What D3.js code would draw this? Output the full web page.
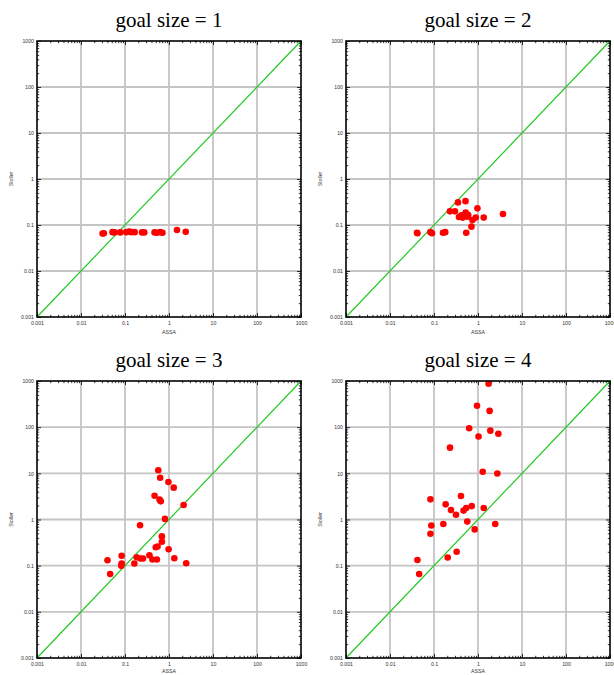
<!DOCTYPE html>
<html><head><meta charset="utf-8">
<script src="https://cdn.jsdelivr.net/npm/d3@7"></script>
<style>body{margin:0;background:#fff}svg{display:block}</style>
</head><body>
<svg id="c" width="614" height="675"></svg>
<script>
const titles = ["goal size = 1","goal size = 2","goal size = 3","goal size = 4"];
const tickValues = [0.001,0.01,0.1,1,10,100,1000];
const tickLabels = ["0.001","0.01","0.1","1","10","100","1000"];
const xTitle = "ASSA", yTitle = "Stoller";

const assa1 = [0.031,0.033,0.052,0.058,0.078,0.107,0.125,0.139,0.166,0.244,0.274,0.47,0.53,0.63,0.71,1.52,2.4];
const stoller1 = [0.065,0.066,0.070,0.069,0.069,0.070,0.072,0.070,0.070,0.069,0.069,0.069,0.068,0.070,0.068,0.078,0.071];

const assa2 = [0.041,0.042,0.083,0.090,0.16,0.18,0.23,0.30,0.35,0.52,0.37,0.42,0.46,0.525,0.575,0.45,0.60,0.97,0.75,0.89,0.71,0.54,1.35,3.7];
const stoller2 = [0.068,0.066,0.070,0.066,0.068,0.070,0.198,0.198,0.31,0.33,0.149,0.162,0.162,0.186,0.152,0.145,0.165,0.23,0.128,0.145,0.092,0.068,0.145,0.173];

const assa3 = [0.040,0.046,0.084,0.084,0.082,0.163,0.184,0.223,0.257,0.22,0.36,0.42,0.53,0.50,0.55,0.69,0.69,0.98,1.32,2.46,0.81,2.15,0.47,0.61,0.65,0.57,0.63,0.97,1.28];
const stoller3 = [0.131,0.066,0.163,0.111,0.099,0.111,0.152,0.143,0.143,0.75,0.168,0.136,0.136,0.25,0.26,0.33,0.43,0.227,0.145,0.113,1.03,2.06,3.28,2.69,2.47,11.7,8.0,6.5,4.9];

const assa4 = [0.042,0.046,0.083,0.087,0.083,0.163,0.184,0.205,0.243,0.231,0.316,0.327,0.41,0.47,0.54,0.57,0.63,0.72,0.84,0.95,1.03,1.28,1.35,1.74,1.84,1.91,2.46,2.75,2.9];
const stoller4 = [0.133,0.066,0.49,0.74,2.73,0.80,2.13,0.15,1.61,36,1.27,0.20,3.22,1.56,1.77,0.90,95,1.95,0.61,290,63,10.8,1.77,875,225,84,0.80,9.9,72];

const panels = [
  {title: titles[0], x: assa1, y: stoller1, left: 37, top: 41, bottom: 317, xt: 17},
  {title: titles[1], x: assa2, y: stoller2, left: 346, top: 41, bottom: 317, xt: 17},
  {title: titles[2], x: assa3, y: stoller3, left: 37, top: 381, bottom: 658, xt: 15},
  {title: titles[3], x: assa4, y: stoller4, left: 346, top: 381, bottom: 658, xt: 15}
];
const W = 264;
const SERIF = "'Liberation Serif', 'Times New Roman', 'DejaVu Serif', serif";
const SANS = "'Liberation Sans', Arial, 'DejaVu Sans', sans-serif";
const svg = d3.select("#c");

panels.forEach(p => {
  const xs = d3.scaleLog().domain([0.001,1000]).range([p.left, p.left+W]);
  const ys = d3.scaleLog().domain([0.001,1000]).range([p.bottom, p.top]);
  const g = svg.append("g");
  const minor = [];
  for (let e=-3;e<3;e++) for (let k=2;k<10;k++) minor.push(k*Math.pow(10,e));

  g.append("g").selectAll("line").data(tickValues.slice(1,-1)).join("line")
    .attr("x1", d=>xs(d)).attr("x2", d=>xs(d)).attr("y1", p.top).attr("y2", p.bottom)
    .attr("stroke","#c4c4c4").attr("stroke-width",1.8);
  g.append("g").selectAll("line").data(tickValues.slice(1,-1)).join("line")
    .attr("y1", d=>ys(d)).attr("y2", d=>ys(d)).attr("x1", p.left).attr("x2", p.left+W)
    .attr("stroke","#c4c4c4").attr("stroke-width",1.8);

  const fmt = (d) => { const i = tickValues.indexOf(d); return i>=0 ? tickLabels[i] : ""; };
  const ax = [
    d3.axisBottom(xs).tickValues(tickValues.concat(minor)).tickFormat(fmt),
    d3.axisTop(xs).tickValues(tickValues.concat(minor)).tickFormat(""),
    d3.axisLeft(ys).tickValues(tickValues.concat(minor)).tickFormat(fmt),
    d3.axisRight(ys).tickValues(tickValues.concat(minor)).tickFormat("")
  ];
  const trans = [`translate(0,${p.bottom})`,`translate(0,${p.top})`,`translate(${p.left},0)`,`translate(${p.left+W},0)`];
  ax.forEach((a,i) => {
    a.tickSizeInner(0).tickSizeOuter(0).tickPadding(i===0?4:(i===2?3:0));
    const ag = g.append("g").attr("transform", trans[i]).call(a);
    ag.select(".domain").remove();
    ag.attr("font-family", SANS);
    ag.selectAll("text").attr("font-size",5.2).attr("fill","#333");
    ag.selectAll(".tick line").each(function(d){
      const isMajor = tickValues.indexOf(d) >= 0;
      const len = isMajor ? 4 : 2.2;
      const s = d3.select(this).attr("stroke","#000").attr("stroke-width",0.8);
      if (i===0) s.attr("y2",-len);
      if (i===1) s.attr("y2",len);
      if (i===2) s.attr("x2",len);
      if (i===3) s.attr("x2",-len);
    });
  });

  g.append("line").attr("x1", xs(0.001)).attr("y1", ys(0.001)).attr("x2", xs(1000)).attr("y2", ys(1000))
    .attr("stroke","#22c822").attr("stroke-width",1.2);

  g.append("g").selectAll("circle").data(p.x.map((v,i)=>[v,p.y[i]])).join("circle")
    .attr("cx", d=>xs(d[0])).attr("cy", d=>ys(d[1])).attr("r",3.3).attr("fill","#ff0000");

  g.append("rect").attr("x",p.left).attr("y",p.top).attr("width",W).attr("height",p.bottom-p.top)
    .attr("fill","none").attr("stroke","#000").attr("stroke-width",1.6);

  g.append("text").style("font-family", SERIF).style("font-size","21px")
    .attr("x", p.left+W/2).attr("y", p.top-14).attr("text-anchor","middle").text(p.title);
  g.append("text").style("font-family", SANS).style("font-size","5.2px").attr("fill","#333")
    .attr("x", p.left+W/2).attr("y", p.bottom+p.xt).attr("text-anchor","middle").text(xTitle);
  g.append("text").style("font-family", SANS).style("font-size","5.2px").attr("fill","#333")
    .attr("transform",`translate(${p.left-24},${(p.top+p.bottom)/2}) rotate(-90)`).attr("text-anchor","middle").text(yTitle);
});
</script>
</body></html>
